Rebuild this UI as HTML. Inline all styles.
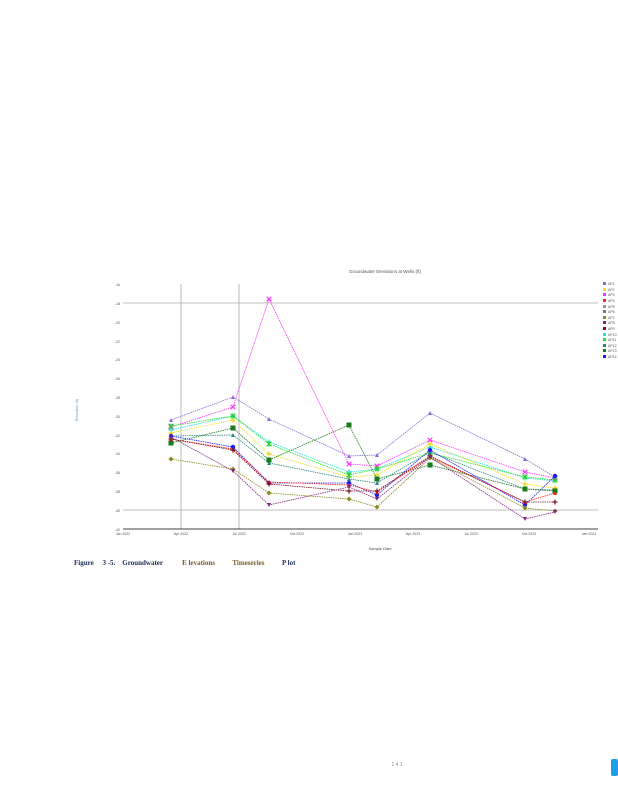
<!DOCTYPE html>
<html><head><style>
html,body{margin:0;padding:0;background:#fff;}
body{width:618px;height:800px;position:relative;overflow:hidden;font-family:"Liberation Serif",serif;}
.cap{position:absolute;top:559px;left:74px;font-size:7px;font-weight:bold;color:#1b2a55;white-space:pre;}
.cap span{color:#7a5a2a}
</style></head><body>
<svg width="618" height="800" style="position:absolute;left:0;top:0" font-family="Liberation Sans, sans-serif">
<defs>
<marker id="m1" markerWidth="4" markerHeight="4" refX="2" refY="2" markerUnits="userSpaceOnUse"><path d="M0,4 L2,0 L4,4Z" fill="#8a6ad8"/></marker>
<marker id="m2" markerWidth="5" markerHeight="5" refX="2.5" refY="2.5" markerUnits="userSpaceOnUse"><path d="M0,0 L5,5 M5,0 L0,5" stroke="#ff33ff" stroke-width="1.2"/></marker>
<marker id="m3" markerWidth="5" markerHeight="5" refX="2.5" refY="2.5" markerUnits="userSpaceOnUse"><path d="M2.5,0 V5 M0,2.5 H5" stroke="#22e0e0" stroke-width="1.2"/></marker>
<marker id="m4" markerWidth="5" markerHeight="5" refX="2.5" refY="2.5" markerUnits="userSpaceOnUse"><path d="M2.5,0 V5 M0,2.5 H5" stroke="#e8d810" stroke-width="1.2"/></marker>
<marker id="m5" markerWidth="5" markerHeight="5" refX="2.5" refY="2.5" markerUnits="userSpaceOnUse"><path d="M0,0 L5,5 M5,0 L0,5 M2.5,0 V5" stroke="#22d022" stroke-width="1.1"/></marker>
<marker id="m6" markerWidth="4" markerHeight="4" refX="2" refY="2" markerUnits="userSpaceOnUse"><path d="M0,4 L2,0 L4,4Z" fill="#2a8a80"/></marker>
<marker id="m7" markerWidth="5" markerHeight="5" refX="2.5" refY="2.5" markerUnits="userSpaceOnUse"><rect width="5" height="5" fill="#1a7a1a"/></marker>
<marker id="m8" markerWidth="5" markerHeight="5" refX="2.5" refY="2.5" markerUnits="userSpaceOnUse"><circle cx="2.5" cy="2.5" r="2.2" fill="#1a1aff"/></marker>
<marker id="m9" markerWidth="4" markerHeight="4" refX="2" refY="2" markerUnits="userSpaceOnUse"><path d="M0,4 L2,0 L4,4Z" fill="#ff2020"/></marker>
<marker id="m10" markerWidth="5" markerHeight="5" refX="2.5" refY="2.5" markerUnits="userSpaceOnUse"><path d="M2.5,0 V5 M0,2.5 H5" stroke="#7a1020" stroke-width="1.2"/></marker>
<marker id="m11" markerWidth="5" markerHeight="5" refX="2.5" refY="2.5" markerUnits="userSpaceOnUse"><path d="M2.5,0 L5,2.5 L2.5,5 L0,2.5Z" fill="#8a8a20"/></marker>
<marker id="m12" markerWidth="4" markerHeight="4" refX="2" refY="2" markerUnits="userSpaceOnUse"><path d="M0,0 L2,4 L4,0Z" fill="#802080"/></marker>
</defs>
<text x="385" y="273" font-size="4.5" text-anchor="middle" fill="#555">Groundwater Elevations at Wells (ft)</text>
<g stroke="#aaa" stroke-width="0.8">
<line x1="123" y1="303" x2="598" y2="303"/><line x1="123" y1="510" x2="598" y2="510"/>
<line x1="181" y1="284" x2="181" y2="529"/><line x1="239" y1="284" x2="239" y2="529"/>
</g>
<line x1="123" y1="529" x2="598" y2="529" stroke="#000" stroke-width="0.8"/>
<g font-size="3.5" fill="#555" text-anchor="end">
<text x="120" y="286">-16</text><text x="120" y="305">-18</text><text x="120" y="324">-20</text><text x="120" y="343">-22</text><text x="120" y="361">-24</text><text x="120" y="380">-26</text><text x="120" y="399">-28</text><text x="120" y="418">-30</text><text x="120" y="437">-32</text><text x="120" y="455">-34</text><text x="120" y="474">-36</text><text x="120" y="493">-38</text><text x="120" y="512">-40</text><text x="120" y="531">-42</text>
</g>
<g font-size="3.5" fill="#555" text-anchor="middle">
<text x="123" y="535">Jan 2022</text><text x="181" y="535">Apr 2022</text><text x="239" y="535">Jul 2022</text><text x="297" y="535">Oct 2022</text><text x="355" y="535">Jan 2023</text><text x="413" y="535">Apr 2023</text><text x="471" y="535">Jul 2023</text><text x="529" y="535">Oct 2023</text><text x="589" y="535">Jan 2024</text>
</g>
<text x="380" y="550" font-size="4" text-anchor="middle" fill="#444">Sample Date</text>
<text x="78" y="410" font-size="4" fill="#6aa0d0" transform="rotate(-90 78 410)" text-anchor="middle">Elevation (ft)</text>
<g fill="none" stroke-width="0.8" stroke-dasharray="1.5,0.8">
<polyline stroke="#8a6ad8" marker-start="url(#m1)" marker-mid="url(#m1)" marker-end="url(#m1)" points="171,420 233,397 269,419 349,456 377,455 430,413 525,459 555,477"/>
<polyline stroke="#ff33ff" marker-start="url(#m2)" marker-mid="url(#m2)" marker-end="url(#m2)" points="171,427 233,407 269,299 349,464 377,466 430,440 525,472 555,478"/>
<polyline stroke="#22e0e0" marker-start="url(#m3)" marker-mid="url(#m3)" marker-end="url(#m3)" points="171,430 233,416 269,442 349,472 377,469 430,447 525,478 555,481"/>
<polyline stroke="#f0e020" marker-start="url(#m4)" marker-mid="url(#m4)" marker-end="url(#m4)" points="171,433 233,420 269,454 349,477 377,475 430,444 525,484 555,488"/>
<polyline stroke="#22e022" marker-start="url(#m5)" marker-mid="url(#m5)" marker-end="url(#m5)" points="171,426 233,416 269,444 349,475 377,469 430,453 525,477 555,480"/>
<polyline stroke="#2a8a80" marker-start="url(#m6)" marker-mid="url(#m6)" marker-end="url(#m6)" points="171,436 233,435 269,463 349,479 377,483 430,452 525,489 555,490"/>
<polyline stroke="#1a7a1a" marker-start="url(#m7)" marker-mid="url(#m7)" marker-end="url(#m7)" points="171,443 233,428 269,460 349,425 377,479 430,465 525,489 555,491"/>
<polyline stroke="#1a1aff" marker-start="url(#m8)" marker-mid="url(#m8)" marker-end="url(#m8)" points="171,436 233,447 269,483 349,483 377,495 430,450 525,505 555,476"/>
<polyline stroke="#ff2020" marker-start="url(#m9)" marker-mid="url(#m9)" marker-end="url(#m9)" points="171,439 233,449 269,482 349,485 377,492 430,457 525,502 555,493"/>
<polyline stroke="#7a1020" marker-start="url(#m10)" marker-mid="url(#m10)" marker-end="url(#m10)" points="171,439 233,450 269,484 349,491 377,491 430,456 525,502 555,502"/>
<polyline stroke="#8a8a20" marker-start="url(#m11)" marker-mid="url(#m11)" marker-end="url(#m11)" points="171,459 233,469 269,493 349,499 377,507 430,458 525,508 555,511"/>
<polyline stroke="#802080" marker-start="url(#m12)" marker-mid="url(#m12)" marker-end="url(#m12)" points="171,437 233,471 269,505 349,487 377,499 430,457 525,519 555,512"/>
</g>
<g font-size="3.5" fill="#555">
<rect x="603" y="282" width="3" height="3" fill="#8a6ad8"/><text x="608" y="285">AP1</text>
<rect x="603" y="288" width="3" height="3" fill="#f0e020"/><text x="608" y="291">AP2</text>
<rect x="603" y="293" width="3" height="3" fill="#ff33ff"/><text x="608" y="296">AP3</text>
<rect x="603" y="299" width="3" height="3" fill="#ff2020"/><text x="608" y="302">AP4</text>
<rect x="603" y="305" width="3" height="3" fill="#999"/><text x="608" y="308">AP5</text>
<rect x="603" y="310" width="3" height="3" fill="#777"/><text x="608" y="313">AP6</text>
<rect x="603" y="316" width="3" height="3" fill="#8a8a20"/><text x="608" y="319">AP7</text>
<rect x="603" y="321" width="3" height="3" fill="#802080"/><text x="608" y="324">AP8</text>
<rect x="603" y="327" width="3" height="3" fill="#7a1020"/><text x="608" y="330">AP9</text>
<rect x="603" y="333" width="3" height="3" fill="#22e0e0"/><text x="608" y="336">AP10</text>
<rect x="603" y="338" width="3" height="3" fill="#22e022"/><text x="608" y="341">AP11</text>
<rect x="603" y="344" width="3" height="3" fill="#2a8a80"/><text x="608" y="347">AP12</text>
<rect x="603" y="349" width="3" height="3" fill="#1a7a1a"/><text x="608" y="352">AP13</text>
<rect x="603" y="355" width="3" height="3" fill="#1a1aff"/><text x="608" y="358">AP14</text>
</g>
<text x="397" y="766" font-size="5" fill="#888" text-anchor="middle">1 4 1</text>
<rect x="611" y="759" width="7" height="17" rx="2" fill="#1aa0e8"/>
</svg>
<div class="cap">Figure     3 -5.    Groundwater           <span>E levations</span>          <span>Timeseries</span>          P lot</div>
</body></html>
